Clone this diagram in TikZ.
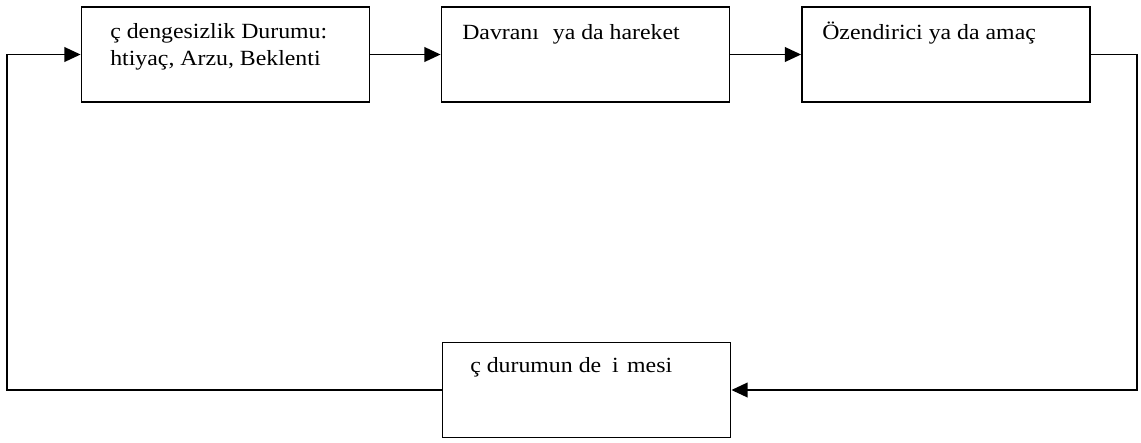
\documentclass[tikz,border=0pt]{standalone}
\usepackage{fontspec}
\setmainfont[FakeStretch=1.1]{Liberation Serif}
\usetikzlibrary{arrows.meta}

\begin{document}
\begin{tikzpicture}[x=0.025cm, y=-0.025cm,
    box/.style={draw, line width=1.3pt, minimum width=7.2cm, minimum height=2.375cm, inner sep=0pt},
    lbl/.style={anchor=base west, inner sep=0pt, align=left, font=\fontsize{15.4}{18.5}\selectfont},
    arr/.style={line width=1pt, -{Triangle[length=11.5pt, width=10.5pt]}}]
    \useasboundingbox (0, 0) rectangle (1141, 442);

    \node [box] (ic) at (225.5, 54.5) {};
    \node [box] (dav) at (585.5, 54.5) {};
    \node [box] (oz) at (946, 54.5) {};
    \node [box] (deg) at (586.5, 390) {};

    \node [lbl] (icText) at (110, 65) {ç dengesizlik Durumu:\\htiyaç, Arzu, Beklenti};
    \node [lbl] (davText) at (462, 39) {Davranı\hspace{0.64em}ya da hareket};
    \node [lbl] (ozText) at (822, 39) {Özendirici ya da amaç};
    \node [lbl] (degText) at (470, 372) {ç durumun de\hspace{0.5em}i\hspace{0.39em}mesi};

    \coordinate (sagUst) at (1137, 54.5);
    \coordinate (solUst) at (7, 54.5);

    \draw [arr] (ic) to (dav);
    \draw [arr] (dav) to (oz);
    \draw [arr] (oz.east) -- (sagUst) |- (deg.east);
    \draw [arr] (deg.west) -| (solUst) -- (ic.west);

  \end{tikzpicture}
\end{document}
